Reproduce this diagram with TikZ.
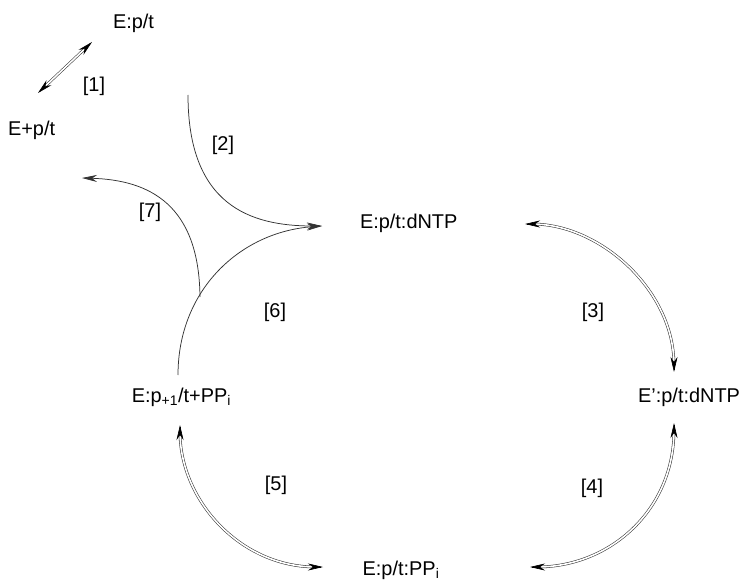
\documentclass[tikz,border=0pt]{standalone}
\usepackage{fontspec}
\setmainfont{Liberation Sans}
\usetikzlibrary{arrows.meta,calc}
\begin{document}
\begin{tikzpicture}[x=1bp,y=-1bp,
  lbl/.style={font=\fontsize{20}{24}\selectfont, inner sep=0pt, outer sep=0pt, text=black},
  eqline/.style={draw=black!80, line width=0.55pt, double=white, double distance=1.6pt},
  oneway/.style={draw=black!80, line width=0.75pt, -{Stealth[length=15bp,width=7bp]}},
  tip/.style={-{Stealth[length=15bp,width=7bp]}, draw=black, line width=0.6pt},
]
\useasboundingbox (0,0) rectangle (741,581);

% species
\node[lbl, anchor=base west] (ept)   at (113,29)  {E:p/t};
\node[lbl, anchor=base west] (eplus) at (8,136)   {E+p/t};
\node[lbl, anchor=base west] (dntp)  at (360,228) {E:p/t:dNTP};
\node[lbl, anchor=base east] (edntp) at (740,402) {E':p/t:dNTP};
\node[lbl, anchor=base]      (ppi)   at (401,575) {E:p/t:PP\textsubscript{i}};
\node[lbl, anchor=base east] (pone)  at (231,402) {E:p\textsubscript{+1}/t+PP\textsubscript{i}};

% step labels
\node[lbl] (l1) at (94,86)   {[1]};
\node[lbl] (l2) at (223,145) {[2]};
\node[lbl] (l7) at (150,212) {[7]};
\node[lbl] (l6) at (275,312) {[6]};
\node[lbl] (l3) at (593,312) {[3]};
\node[lbl] (l4) at (592,488) {[4]};
\node[lbl] (l5) at (276,485) {[5]};

% [1] equilibrium
\coordinate (c1a) at (38,93); \coordinate (c1b) at (92,42);
\draw[eqline, shorten <=7bp, shorten >=7bp] (c1a) -- (c1b);
\draw[tip] ($(c1a)!2bp!(c1b)$) -- (c1a);
\draw[tip] ($(c1b)!2bp!(c1a)$) -- (c1b);

% [2] binding of dNTP
\coordinate (c2a) at (188,95); \coordinate (c2b) at (188,205);
\coordinate (c2c) at (250,226); \coordinate (joint) at (322,226);
\draw[oneway] (c2a) .. controls (c2b) and (c2c) .. (joint);

% [6]
\coordinate (c6a) at (178,375); \coordinate (c6b) at (178,290);
\coordinate (c6c) at (240,232);
\draw[oneway] (c6a) .. controls (c6b) and (c6c) .. (joint);

% [7]
\coordinate (c7a) at (200,297); \coordinate (c7b) at (199,205);
\coordinate (c7c) at (150,180); \coordinate (c7d) at (82,178);
\draw[oneway] (c7a) .. controls (c7b) and (c7c) .. (c7d);

% [3] equilibrium
\coordinate (c3a) at (525,224); \coordinate (c3b) at (600,224);
\coordinate (c3c) at (674,290); \coordinate (c3d) at (674,372);
\draw[eqline, shorten <=7bp, shorten >=7bp] (c3a) .. controls (c3b) and (c3c) .. (c3d);
\draw[tip] ($(c3a)!2bp!(c3b)$) -- (c3a);
\draw[tip] ($(c3d)!2bp!(c3c)$) -- (c3d);

% [4] equilibrium
\coordinate (c4a) at (674,423); \coordinate (c4b) at (674,510);
\coordinate (c4c) at (610,567); \coordinate (c4d) at (530,567);
\draw[eqline, shorten <=7bp, shorten >=7bp] (c4a) .. controls (c4b) and (c4c) .. (c4d);
\draw[tip] ($(c4a)!2bp!(c4b)$) -- (c4a);
\draw[tip] ($(c4d)!2bp!(c4c)$) -- (c4d);

% [5] equilibrium
\coordinate (c5a) at (180,425); \coordinate (c5b) at (180,500);
\coordinate (c5c) at (240,567); \coordinate (c5d) at (323,567);
\draw[eqline, shorten <=7bp, shorten >=7bp] (c5a) .. controls (c5b) and (c5c) .. (c5d);
\draw[tip] ($(c5a)!2bp!(c5b)$) -- (c5a);
\draw[tip] ($(c5d)!2bp!(c5c)$) -- (c5d);
\end{tikzpicture}
\end{document}
